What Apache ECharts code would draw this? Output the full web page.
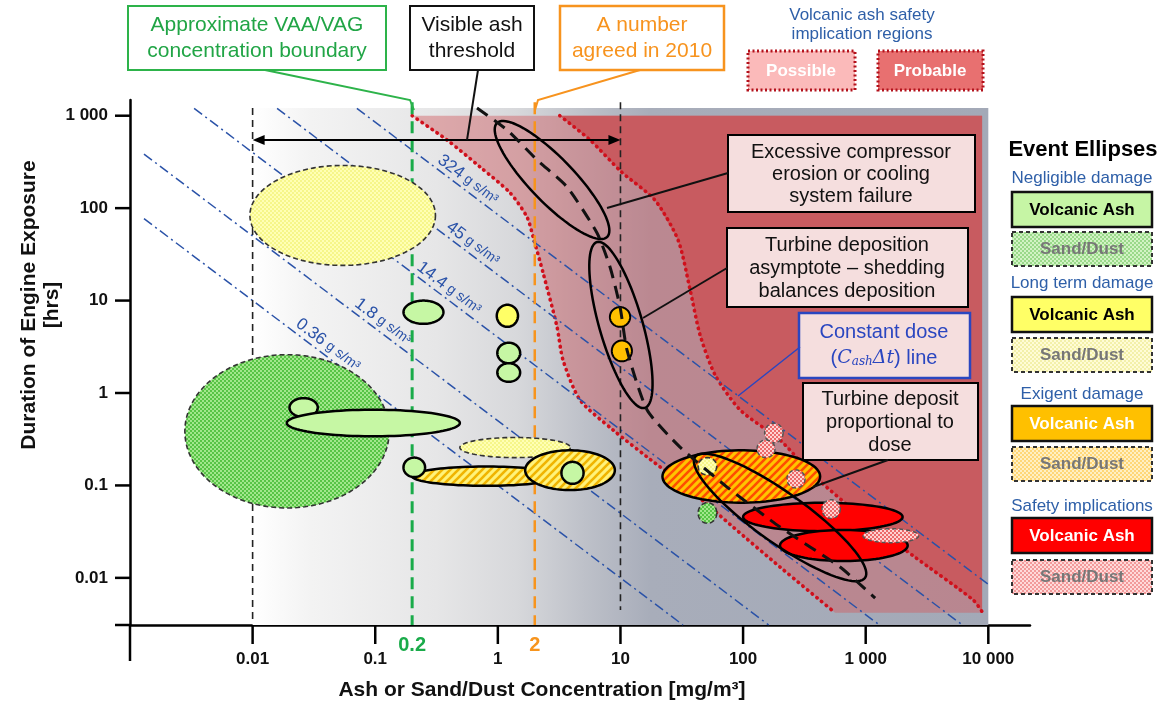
<!DOCTYPE html>
<html><head><meta charset="utf-8">
<script src="https://cdn.jsdelivr.net/npm/echarts@6/dist/echarts.min.js"></script>
<style>html,body{margin:0;padding:0;background:#fff}#c{width:1169px;height:710px}</style>
</head><body><div id="c"></div>
<script>
// ================= DATA =================
const xTickValues = [0.01, 0.1, 1, 10, 100, 1000, 10000];
const xTickLabels = ['0.01', '0.1', '1', '10', '100', '1 000', '10 000'];
const yTickValues = [0.01, 0.1, 1, 10, 100, 1000];
const yTickLabels = ['0.01', '0.1', '1', '10', '100', '1 000'];

// concentration thresholds [mg/m3]
const thresholds = [0.01, 0.2, 2, 10];
const thresholdLabels = ['', '0.2', '2', ''];
// visible-ash range arrow
const visibleRange = [0.01, 10];
const arrowDuration = 546;

// constant dose lines: C*t product [mg h/m3] and their labels [g s/m3]
const doseProducts = [0.1, 0.5, 4, 19, 85];
const doseLabels = ['0.36', '1.8', '14.4', '45', '324'];
const doseLabelAt = [0.0368, 0.1035, 0.357, 0.56, 0.51];

// safety implication region boundaries [conc, hrs]
const possibleBoundary = [[0.2,1000],[0.385,546],[0.716,279],[1.26,146],[1.73,80],[1.94,48.7],[2.34,19.9],[3.04,5.17],[3.4,2.27],[4.68,0.84],[8.7,0.398],[16.5,0.203],[37,0.0893],[82.8,0.0355],[200,0.0131],[562,0.0042]];
const probableBoundary = [[3.2,1000],[5.65,546],[10.2,246],[19.1,122],[29.5,45.2],[37,13],[44.6,4.24],[59.1,1.57],[94.6,0.655],[200,0.31],[372,0.13],[953,0.0444],[2440,0.0173],[7520,0.00577],[8900,0.0043]];
// turbine deposition trend
const trendLine = [[0.676,1211],[1.19,700],[2.09,332],[3.67,169],[6.44,53.8],[8.22,23.1],[9.93,8.5],[11.3,2.92],[16.5,0.655],[30.6,0.26],[74,0.096],[200,0.0355],[618,0.0131],[1194,0.00605]];

// event ellipses [concLow, concHigh, hrsLow, hrsHigh]
const sandNegligible = [[0.0028,0.13,0.057,2.6],[43,61,0.039,0.065]];
const hatchedExigent = [[22,425,0.065,0.24]];
const sandLongTerm = [[0.0095,0.31,24,290],[0.49,3.9,0.2,0.33],[43,61,0.13,0.2]];
const hatchedLongTerm = [[0.2,3.2,0.099,0.16],[1.67,9.0,0.089,0.24]];
const ashNegligible = [[0.02,0.034,0.55,0.88],[0.019,0.49,0.34,0.66],[0.17,0.36,5.6,10],[0.99,1.52,2.1,3.5],[0.99,1.52,1.32,2.1],[0.17,0.255,0.123,0.2],[3.3,5.0,0.104,0.18]];
const ashLongTerm = [[0.98,1.46,5.2,9]];
const ashExigent = [[8.2,12,5.2,8.5],[8.5,12.4,2.2,3.7]];
const ashSafety = [[100,2000,0.032,0.065],[200,2200,0.0152,0.033]];
const sandSafety = [[150,212,0.29,0.47],[130,182,0.2,0.31],[228,320,0.094,0.147],[440,620,0.044,0.07],[950,2700,0.024,0.034]];
// tilted event envelopes [conc1, hrs1, conc2, hrs2, widthRatio]
const envelopes = [[0.984,834,7.78,48.7,0.28],[6.44,43,15.8,0.69,0.25],[40.6,0.203,988,0.01,0.24]];

// ================= LAYOUT / STYLE =================
const FF = '"Liberation Sans", Arial, Helvetica, sans-serif';
const X_MIN = 0.001, X_MAX = Math.pow(10, 4.34);
const Y_MIN = Math.pow(10, -2.51), Y_MAX = Math.pow(10, 3.17);
const BOX_X = [0.01, 10000], BOX_YTOP = 1210;
const REG_XMAX = 8900, REG_YMIN = 0.0042, REG_YMAX = 1000;
const DOSE_BLUE = '#2a52a8';
const TXT_BLUE = '#2e5fa8';

function pattern(bg, fg, kind) {
  const c = document.createElement('canvas');
  const s = kind === 'stripes' ? 8 : 4;
  c.width = s; c.height = s;
  const g = c.getContext('2d');
  g.fillStyle = bg; g.fillRect(0, 0, s, s);
  if (kind === 'dots') {
    g.fillStyle = fg; g.fillRect(0, 0, 2, 2); g.fillRect(2, 2, 2, 2);
  } else {
    g.strokeStyle = fg; g.lineWidth = 2.6;
    [[0, s, s, 0], [-s, s, s, -s], [0, 2 * s, 2 * s, 0]].forEach(l => {
      g.beginPath(); g.moveTo(l[0], l[1]); g.lineTo(l[2], l[3]); g.stroke();
    });
  }
  return { image: c, repeat: 'repeat' };
}

const ST = {
  sandNegligible: { fill: pattern('#a2e78c', '#58c446', 'dots'), stroke: '#333', lineWidth: 1.6, lineDash: [5, 3] },
  hatchedExigent: { fill: pattern('#ffc400', '#ff4d00', 'stripes'), stroke: '#000', lineWidth: 2.5 },
  sandLongTerm: { fill: pattern('#ffffb4', '#f6f68a', 'dots'), stroke: '#333', lineWidth: 1.6, lineDash: [5, 3] },
  hatchedLongTerm: { fill: pattern('#fff27a', '#f0b400', 'stripes'), stroke: '#000', lineWidth: 2.5 },
  ashNegligible: { fill: '#c6f7a4', stroke: '#000', lineWidth: 2.5 },
  ashLongTerm: { fill: '#ffff66', stroke: '#000', lineWidth: 2.5 },
  ashExigent: { fill: '#ffc000', stroke: '#000', lineWidth: 2 },
  ashSafety: { fill: '#ff0000', stroke: '#000', lineWidth: 2.5 },
  sandSafety: { fill: pattern('#ffd2d2', '#ec6a6a', 'dots'), stroke: '#555', lineWidth: 1.5, lineDash: [4, 3] }
};

const thresholdStyle = [
  { stroke: '#222', lineWidth: 1.6, lineDash: [7, 5], top: 1210, bottom: 0.0033, color: '#000' },
  { stroke: '#1aab4a', lineWidth: 3, lineDash: [12, 7], top: 1400, bottom: Y_MIN, color: '#1aab4a' },
  { stroke: '#f7941d', lineWidth: 2.5, lineDash: [12, 7], top: 1400, bottom: Y_MIN, color: '#f7941d' },
  { stroke: '#222', lineWidth: 1.6, lineDash: [7, 5], top: 1400, bottom: 0.0045, color: '#000' }
];

function ellipsePts(cx, cy, a, b, th) {
  const pts = [];
  for (let k = 0; k < 90; k++) {
    const p = k / 90 * Math.PI * 2;
    const ca = Math.cos(p) * a, sb = Math.sin(p) * b;
    pts.push([cx + ca * Math.cos(th) - sb * Math.sin(th), cy + ca * Math.sin(th) + sb * Math.cos(th)]);
  }
  return pts;
}

function custom(name, z, data, encode, renderItem) {
  return { type: 'custom', name, z, data, encode, renderItem, silent: true, animation: false, clip: false, coordinateSystem: 'cartesian2d' };
}

function ellipseSeries(name, z, arr, style) {
  return custom(name, z, arr, { x: [0, 1], y: [2, 3] }, (params, api) => {
    const p1 = api.coord([api.value(0), api.value(2)]);
    const p2 = api.coord([api.value(1), api.value(3)]);
    return {
      type: 'polygon',
      shape: { points: ellipsePts((p1[0] + p2[0]) / 2, (p1[1] + p2[1]) / 2, Math.abs(p2[0] - p1[0]) / 2, Math.abs(p2[1] - p1[1]) / 2, 0) },
      style: Object.assign({}, style)
    };
  });
}

function fmt(values, labels) {
  return function (v) {
    const e = Math.log10(v);
    for (let i = 0; i < values.length; i++) {
      if (Math.abs(Math.log10(values[i]) - e) < 1e-6) return labels[i];
    }
    return '';
  };
}

const series = [];

// background box with gradient + safety regions
series.push(custom('regions', 1, [[1, 1]], { x: 0, y: 1 }, (params, api) => {
  const b0 = api.coord([BOX_X[0], BOX_YTOP]), b1 = api.coord([BOX_X[1], Y_MIN]);
  const poss = possibleBoundary.map(p => api.coord(p));
  const prob = probableBoundary.map(p => api.coord(p));
  const cTR = api.coord([REG_XMAX, REG_YMAX]), cBR = api.coord([REG_XMAX, REG_YMIN]);
  return {
    type: 'group', children: [
      { type: 'rect', shape: { x: b0[0], y: b0[1], width: b1[0] - b0[0], height: b1[1] - b0[1] },
        style: { stroke: null, fill: { type: 'linear', x: 0, y: 0, x2: 1, y2: 0, colorStops: [
          { offset: 0, color: '#ffffff' }, { offset: 0.08, color: '#f3f3f3' }, { offset: 0.25, color: '#e6e6e7' },
          { offset: 0.36, color: '#d7d8db' }, { offset: 0.45, color: '#bec1c9' }, { offset: 0.54, color: '#a8adba' },
          { offset: 1, color: '#a3a9b7' }] } } },
      { type: 'polygon', shape: { points: poss.concat([cBR, cTR]) }, style: { fill: 'rgba(209,93,99,0.46)', stroke: null } },
      { type: 'polygon', shape: { points: prob.concat([cBR, cTR]) }, style: { fill: '#c85b60', stroke: null } },
      { type: 'polyline', shape: { points: poss, smooth: 0.25 }, style: { fill: 'none', stroke: '#d0101c', lineWidth: 3.6, lineDash: [0.5, 5.5], lineCap: 'round' } },
      { type: 'polyline', shape: { points: prob, smooth: 0.25 }, style: { fill: 'none', stroke: '#d0101c', lineWidth: 3.6, lineDash: [0.5, 5.5], lineCap: 'round' } }
    ]
  };
}));

// constant dose lines
series.push(custom('doseLines', 2, doseProducts.map((v, i) => [doseLabelAt[i], v / doseLabelAt[i]]), { x: 0, y: 1 }, (params, api) => {
  const i = params.dataIndex;
  const ct = doseProducts[i];
  const x0 = Math.max(0.0013, ct / 1200), x1 = Math.min(10000, ct / Y_MIN);
  const p0 = api.coord([x0, ct / x0]), p1 = api.coord([x1, ct / x1]);
  const pl = api.coord([api.value(0), api.value(1)]);
  const ang = Math.atan2(p1[1] - p0[1], p1[0] - p0[0]);
  const nx = Math.sin(ang), ny = -Math.cos(ang);
  return {
    type: 'group', children: [
      { type: 'line', shape: { x1: p0[0], y1: p0[1], x2: p1[0], y2: p1[1] }, style: { stroke: DOSE_BLUE, lineWidth: 1.5, lineDash: [10, 4, 2, 4], fill: null } },
      { type: 'text', x: pl[0] + nx * 10, y: pl[1] + ny * 10, rotation: -ang,
        style: { text: '{n|' + doseLabels[i] + '} {u|g s/m³}', fill: DOSE_BLUE, align: 'center', verticalAlign: 'middle', font: '14px ' + FF,
          rich: { n: { fontSize: 17, fontFamily: FF, fill: DOSE_BLUE }, u: { fontSize: 14, fontFamily: FF, fill: DOSE_BLUE } } } }
    ]
  };
}));

// threshold vertical lines
series.push(custom('thresholds', 3, thresholds.map(v => [v, 1]), { x: 0, y: 1 }, (params, api) => {
  const i = params.dataIndex, s = thresholdStyle[i];
  const v = api.value(0);
  const t = api.coord([v, s.top]), b = api.coord([v, s.bottom]);
  const ax = api.coord([v, Y_MIN]);
  const ch = [{ type: 'line', shape: { x1: t[0], y1: t[1], x2: b[0], y2: b[1] }, style: { stroke: s.stroke, lineWidth: s.lineWidth, lineDash: s.lineDash, fill: null } }];
  if (thresholdLabels[i]) ch.push({ type: 'text', x: ax[0], y: ax[1] + 20, style: { text: thresholdLabels[i], fill: s.color, font: 'bold 20px ' + FF, align: 'center', verticalAlign: 'middle' } });
  return { type: 'group', children: ch };
}));

// axis ticks
series.push(custom('ticks', 3, [[1, 1]], { x: 0, y: 1 }, (params, api) => {
  const ch = [];
  [X_MIN].concat(xTickValues).forEach((v, k) => {
    const p = api.coord([v, Y_MIN]);
    ch.push({ type: 'line', shape: { x1: p[0], y1: p[1], x2: p[0], y2: p[1] + (k === 0 ? 36 : 19) }, style: { stroke: '#000', lineWidth: 2.5 } });
  });
  [Y_MIN].concat(yTickValues).forEach(v => {
    const p = api.coord([X_MIN, v]);
    ch.push({ type: 'line', shape: { x1: p[0] - 15, y1: p[1], x2: p[0], y2: p[1] }, style: { stroke: '#000', lineWidth: 2.5 } });
  });
  return { type: 'group', children: ch };
}));

// visible ash range arrow
series.push(custom('visibleRange', 4, [[visibleRange[0], arrowDuration]], { x: 0, y: 1 }, (params, api) => {
  const a = api.coord([visibleRange[0], arrowDuration]), b = api.coord([visibleRange[1], arrowDuration]);
  const h = 12, w = 5;
  return {
    type: 'group', children: [
      { type: 'line', shape: { x1: a[0] + 4, y1: a[1], x2: b[0] - 4, y2: b[1] }, style: { stroke: '#000', lineWidth: 2.2 } },
      { type: 'polygon', shape: { points: [[a[0], a[1]], [a[0] + h, a[1] - w], [a[0] + h, a[1] + w]] }, style: { fill: '#000', stroke: null } },
      { type: 'polygon', shape: { points: [[b[0], b[1]], [b[0] - h, b[1] - w], [b[0] - h, b[1] + w]] }, style: { fill: '#000', stroke: null } }
    ]
  };
}));

// event ellipses
series.push(ellipseSeries('sandNegligible', 5, sandNegligible, ST.sandNegligible));
series.push(ellipseSeries('hatchedExigent', 6, hatchedExigent, ST.hatchedExigent));
series.push(ellipseSeries('sandLongTerm', 7, sandLongTerm, ST.sandLongTerm));
series.push(ellipseSeries('hatchedLongTerm', 8, hatchedLongTerm, ST.hatchedLongTerm));
series.push(ellipseSeries('ashNegligible', 9, ashNegligible, ST.ashNegligible));
series.push(ellipseSeries('ashLongTerm', 10, ashLongTerm, ST.ashLongTerm));
series.push(ellipseSeries('ashExigent', 11, ashExigent, ST.ashExigent));
series.push(ellipseSeries('ashSafety', 12, ashSafety, ST.ashSafety));
series.push(ellipseSeries('sandSafety', 13, sandSafety, ST.sandSafety));

// tilted envelopes
series.push(custom('envelopes', 14, envelopes, { x: [0, 2], y: [1, 3] }, (params, api) => {
  const p1 = api.coord([api.value(0), api.value(1)]), p2 = api.coord([api.value(2), api.value(3)]);
  const a = Math.hypot(p2[0] - p1[0], p2[1] - p1[1]) / 2;
  const th = Math.atan2(p2[1] - p1[1], p2[0] - p1[0]);
  return { type: 'polygon', shape: { points: ellipsePts((p1[0] + p2[0]) / 2, (p1[1] + p2[1]) / 2, a, a * api.value(4), th) },
    style: { fill: 'none', stroke: '#000', lineWidth: 2.5 } };
}));

// trend line
series.push(custom('trend', 15, [[1, 1]], { x: 0, y: 1 }, (params, api) => ({
  type: 'polyline', shape: { points: trendLine.map(p => api.coord(p)), smooth: 0.2 },
  style: { fill: 'none', stroke: '#111', lineWidth: 3, lineDash: [13, 8] }
})));

// ================= ANNOTATIONS =================
const G = [];
function T(x, y, text, font, fill, extra) {
  G.push({ type: 'text', x, y, z: 100, style: Object.assign({ text, font: font + ' ' + FF, fill, align: 'center', verticalAlign: 'middle' }, extra || {}) });
}
function R(x, y, w, h, style) {
  G.push({ type: 'rect', z: 100, shape: { x, y, width: w, height: h }, style: Object.assign({ fill: '#fff', stroke: '#000', lineWidth: 2 }, style) });
}
function L(points, stroke, lw) {
  G.push({ type: 'polyline', z: 100, shape: { points }, style: { fill: null, stroke, lineWidth: lw || 2 } });
}

// top boxes
R(128, 6, 258, 64, { stroke: '#2db34a', lineWidth: 2 });
T(257, 25, 'Approximate VAA/VAG', '21px', '#21a546');
T(257, 51, 'concentration boundary', '21px', '#21a546');
L([[265, 70], [410, 100], [414, 110]], '#2db34a', 2);
R(410, 6, 124, 64, { stroke: '#111', lineWidth: 2 });
T(472, 25, 'Visible ash', '21px', '#111');
T(472, 51, 'threshold', '21px', '#111');
L([[478, 70], [467, 140]], '#111', 2);
R(560, 6, 164, 64, { stroke: '#f7931e', lineWidth: 2.5 });
T(642, 25, 'A number', '21px', '#f7931e');
T(642, 51, 'agreed in 2010', '21px', '#f7931e');
L([[640, 70], [538, 100], [535, 110]], '#f7931e', 2);

// region key
T(862, 15, 'Volcanic ash safety', '17px', TXT_BLUE);
T(862, 34, 'implication regions', '17px', TXT_BLUE);
R(748, 51, 107, 39, { fill: '#fbbaba', stroke: '#b3121c', lineWidth: 3, lineDash: [2, 2.5] });
T(801, 71, 'Possible', 'bold 17px', '#fff');
R(878, 51, 105, 39, { fill: '#e87070', stroke: '#b3121c', lineWidth: 3, lineDash: [2, 2.5] });
T(930, 71, 'Probable', 'bold 17px', '#fff');

// event ellipses key
T(1083, 150, 'Event Ellipses', 'bold 22px', '#000');
const keyGroups = [
  { title: 'Negligible damage', ty: 178, ay: 192, sy: 232, fill: '#c6f5a5', tc: '#000', pat: pattern('#d2f3c4', '#9ad98a', 'dots') },
  { title: 'Long term damage', ty: 283, ay: 297, sy: 338, fill: '#ffff66', tc: '#000', pat: pattern('#fffcd6', '#f3f0aa', 'dots') },
  { title: 'Exigent damage', ty: 394, ay: 406, sy: 447, fill: '#ffc000', tc: '#fff', pat: pattern('#fff0c4', '#ffd778', 'dots') },
  { title: 'Safety implications', ty: 506, ay: 518, sy: 560, fill: '#ff0000', tc: '#fff', pat: pattern('#ffdada', '#f29a9a', 'dots') }
];
keyGroups.forEach(g => {
  T(1082, g.ty, g.title, '17px', TXT_BLUE);
  R(1012, g.ay, 140, 35, { fill: g.fill, stroke: '#111', lineWidth: 2.5 });
  T(1082, g.ay + 18, 'Volcanic Ash', 'bold 17px', g.tc);
  R(1012, g.sy, 140, 34, { fill: g.pat, stroke: '#333', lineWidth: 2, lineDash: [4, 3] });
  T(1082, g.sy + 17, 'Sand/Dust', 'bold 17px', '#777');
});

// callouts
const CALL_FILL = '#f5dede';
R(728, 135, 247, 77, { fill: CALL_FILL });
T(851, 174, 'Excessive compressor\nerosion or cooling\nsystem failure', '20px', '#111', { lineHeight: 22 });
L([[728, 173], [607, 208]], '#111', 2);
R(727, 228, 241, 79, { fill: CALL_FILL });
T(847, 268, 'Turbine deposition\nasymptote – shedding\nbalances deposition', '20px', '#111', { lineHeight: 23 });
L([[727, 268], [643, 318]], '#111', 2);
R(799, 313, 171, 65, { fill: CALL_FILL, stroke: '#2a46c0', lineWidth: 2.5 });
T(884, 332, 'Constant dose', '20px', '#2a46c0');
T(884, 358, '({i|C}{s|ash}{i|Δt}) line', '20px', '#2a46c0', {
  rich: { i: { fontStyle: 'italic', fontFamily: 'DejaVu Serif, serif', fontSize: 19, fill: '#2a46c0' },
          s: { fontStyle: 'italic', fontFamily: 'DejaVu Serif, serif', fontSize: 12, fill: '#2a46c0', padding: [8, 0, 0, 0] } } });
L([[800, 347], [738, 396]], '#2a46c0', 1.5);
R(803, 383, 175, 77, { fill: CALL_FILL });
T(890, 422, 'Turbine deposit\nproportional to\ndose', '20px', '#111', { lineHeight: 23 });
L([[888, 460], [813, 487]], '#111', 2);

// axis titles
G.push({ type: 'text', x: 41, y: 305, z: 100, rotation: Math.PI / 2,
  style: { text: 'Duration of Engine Exposure\n[hrs]', font: 'bold 21px ' + FF, fill: '#111', align: 'center', verticalAlign: 'middle', lineHeight: 23 } });
T(542, 690, 'Ash or Sand/Dust Concentration [mg/m³]', 'bold 21px', '#111');

const option = {
  animation: false,
  backgroundColor: '#ffffff',
  grid: { left: 130, right: 139, top: 100, bottom: 85, containLabel: false, outerBoundsMode: 'none' },
  xAxis: {
    type: 'log', logBase: 10, min: X_MIN, max: X_MAX,
    axisLine: { show: true, lineStyle: { color: '#000', width: 2.5 } },
    axisTick: { show: false }, splitLine: { show: false }, minorTick: { show: false },
    axisLabel: { margin: 26, fontSize: 17, fontWeight: 'bold', color: '#111', fontFamily: FF, formatter: fmt(xTickValues, xTickLabels) }
  },
  yAxis: {
    type: 'log', logBase: 10, min: Y_MIN, max: Y_MAX,
    axisLine: { show: true, lineStyle: { color: '#000', width: 2.5 } },
    axisTick: { show: false }, splitLine: { show: false }, minorTick: { show: false },
    axisLabel: { margin: 22, fontSize: 17, fontWeight: 'bold', color: '#111', fontFamily: FF, formatter: fmt(yTickValues, yTickLabels) }
  },
  series: series,
  graphic: { elements: G }
};

const chart = echarts.init(document.getElementById('c'), null, { renderer: 'canvas' });
chart.setOption(option);
</script>
</body></html>
